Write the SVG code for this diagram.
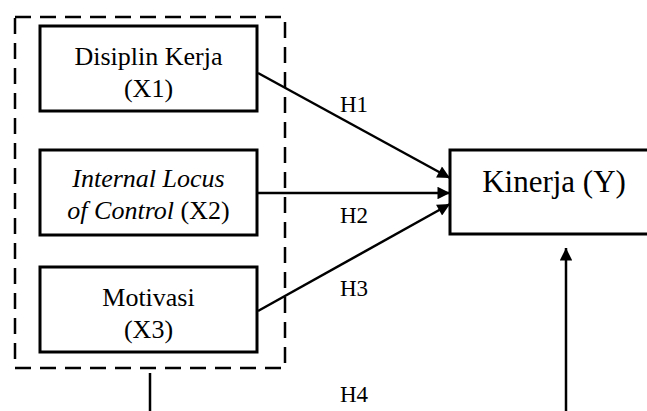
<svg xmlns="http://www.w3.org/2000/svg" width="647" height="411" viewBox="0 0 647 411">
<style>
.box{fill:#fff;stroke:#000;stroke-width:3}
.t{font-family:"Times New Roman","Liberation Serif",Tinos,"DejaVu Serif",serif;font-size:26px;fill:#000;text-anchor:middle}
.h{font-family:"Times New Roman","Liberation Serif",Tinos,"DejaVu Serif",serif;font-size:23px;fill:#000}
.ln{stroke:#000;stroke-width:2.5;fill:none}
</style>
<defs>
<marker id="ah" viewBox="0 0 10 10" refX="10" refY="5" markerWidth="6" markerHeight="5" markerUnits="strokeWidth" orient="auto">
<path d="M0,0 L10,5 L0,10 z" fill="#000"/>
</marker>
</defs>
<rect x="15" y="17" width="270" height="351" fill="none" stroke="#000" stroke-width="2.5" stroke-dasharray="16,9"/>
<g id="x1">
<rect class="box" x="40" y="26" width="217" height="85"/>
<text class="t" x="148.5" y="65">Disiplin Kerja</text>
<text class="t" x="148.5" y="97">(X1)</text>
</g>
<g id="x2">
<rect class="box" x="40" y="150" width="217" height="85"/>
<text class="t" x="148.5" y="187"><tspan font-style="italic">Internal Locus</tspan></text>
<text class="t" x="148.5" y="219"><tspan font-style="italic">of Control</tspan> (X2)</text>
</g>
<g id="x3">
<rect class="box" x="40" y="267" width="217" height="85"/>
<text class="t" x="148.5" y="306">Motivasi</text>
<text class="t" x="148.5" y="338">(X3)</text>
</g>
<g id="y">
<rect class="box" x="450" y="150" width="210" height="84"/>
<text class="t" x="554" y="192" style="font-size:31px">Kinerja (Y)</text>
</g>
<g id="connectors">
<line class="ln" x1="258" y1="73" x2="450" y2="178" marker-end="url(#ah)"/>
<line class="ln" x1="258" y1="193" x2="450" y2="193" marker-end="url(#ah)"/>
<line class="ln" x1="258" y1="311" x2="450" y2="204" marker-end="url(#ah)"/>
<polyline class="ln" points="150,373 150,413 566,413"/>
<line class="ln" x1="566" y1="415" x2="566" y2="248" marker-end="url(#ah)"/>
<text class="h" x="340" y="112">H1</text>
<text class="h" x="340" y="223">H2</text>
<text class="h" x="340" y="296">H3</text>
<text class="h" x="340" y="402">H4</text>
</g>
</svg>
